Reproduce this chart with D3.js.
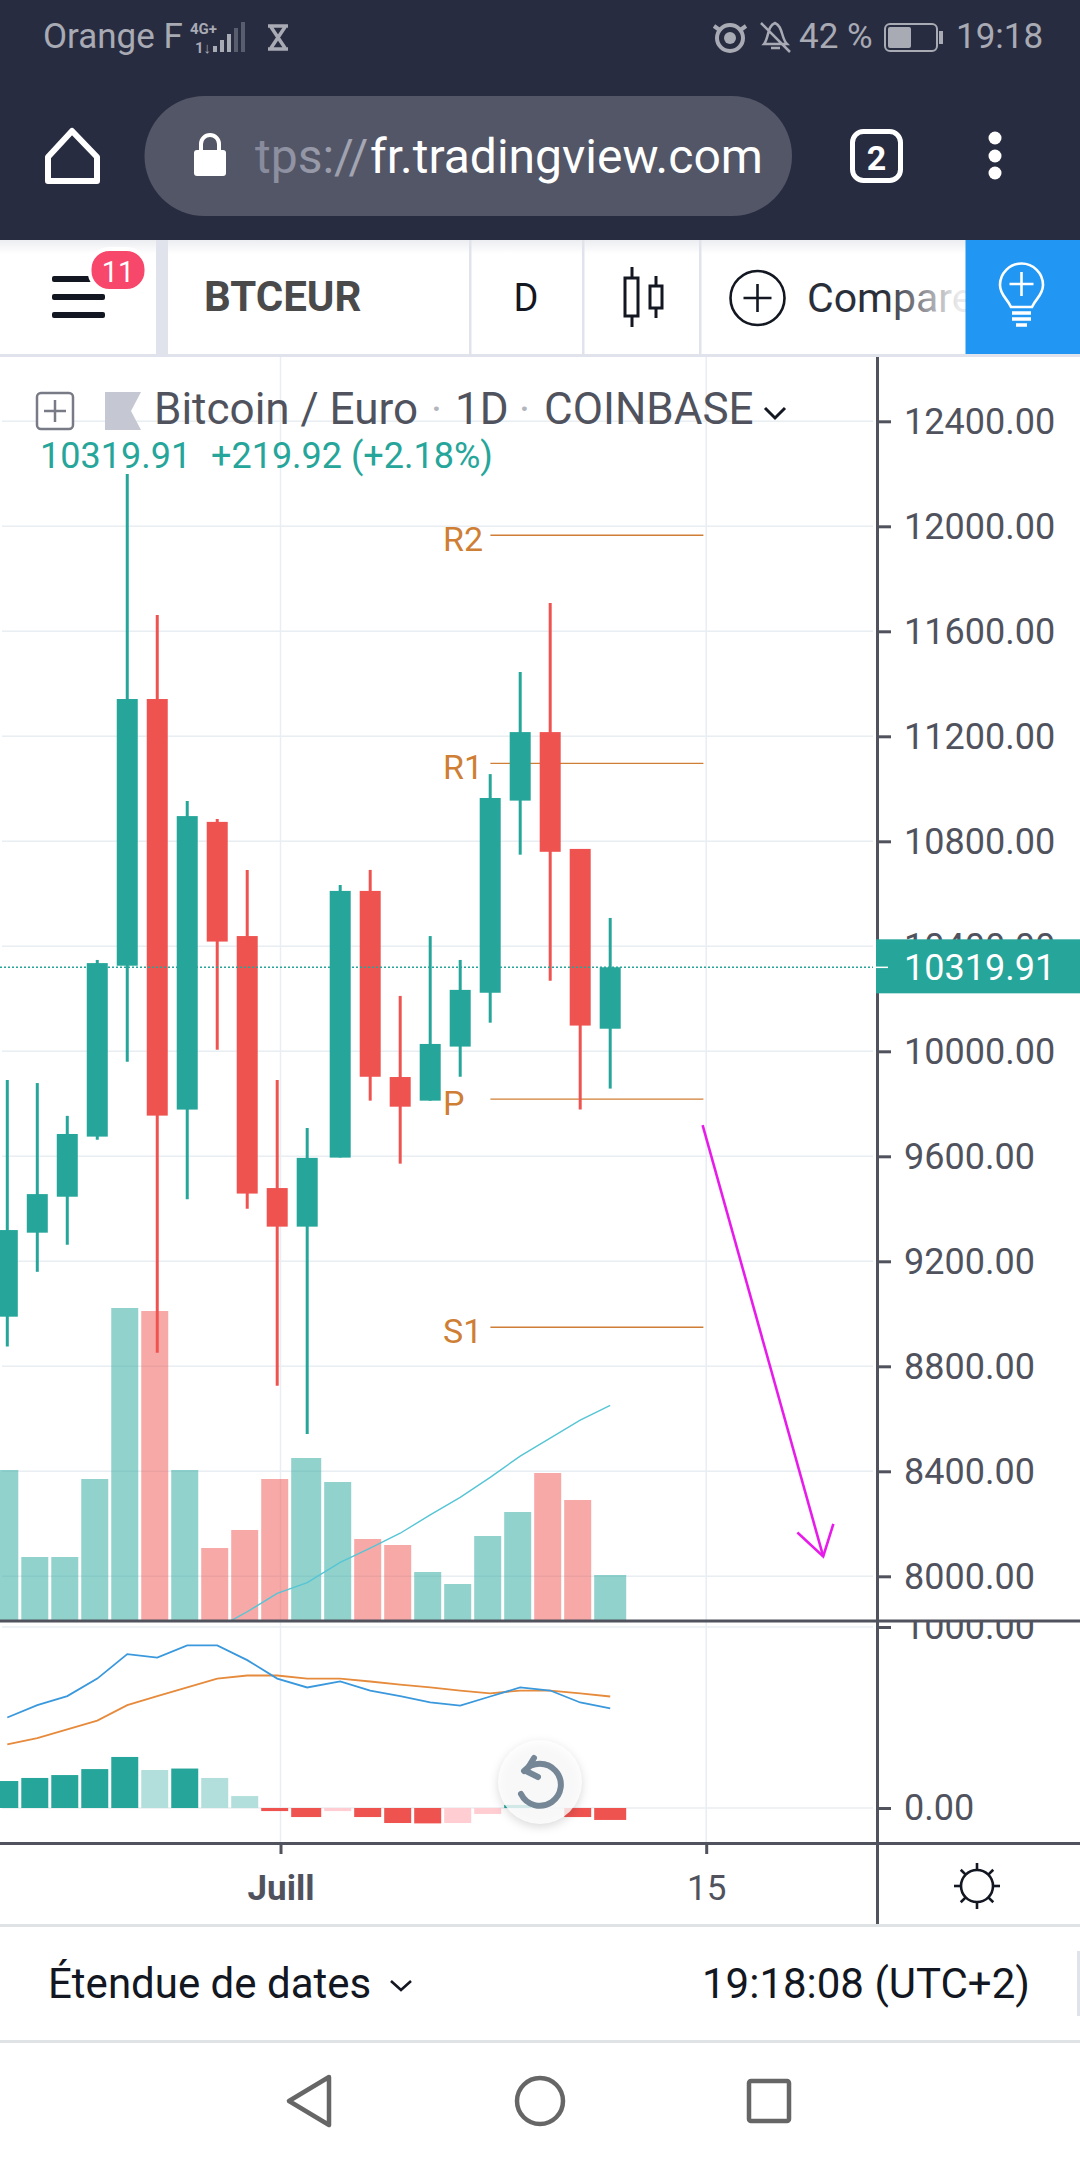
<!DOCTYPE html>
<html>
<head>
<meta charset="utf-8">
<title>BTCEUR</title>
<script src="https://d3js.org/d3.v7.min.js"></script>
<style>
  html, body { margin: 0; padding: 0; background: #fff; }
  svg { display: block; }
  text { font-family: Roboto, "Noto Sans", sans-serif; }
</style>
</head>
<body>
<svg id="chart" width="1080" height="2160"></svg>
<script>
// daily candles, 22 june -> 12 july
var opens  = [8989, 9309, 9446, 9675, 10326, 11342, 9778, 10874, 10439, 9479, 9332, 9595, 10611, 9902, 9812, 10018, 10223, 10955, 11216, 10771, 10086];
var highs  = [9891, 9879, 9754, 10348, 12199, 11662, 10954, 10885, 10691, 9891, 9708, 10634, 10691, 10211, 10439, 10348, 11056, 11445, 11708, 10771, 10508];
var lows   = [8875, 9160, 9263, 9663, 9960, 8852, 9436, 10006, 9400, 8726, 8542, 9595, 9812, 9572, 9812, 9903, 10109, 10749, 10269, 9778, 9858];
var closes = [9319, 9456, 9685, 10336, 11342, 9755, 10896, 10418, 9458, 9332, 9594, 10611, 9903, 9789, 10028, 10234, 10965, 11216, 10760, 10098, 10320];
var volumes = [1510, 640, 640, 1420, 3130, 3100, 1510, 730, 910, 1420, 1630, 1390, 820, 760, 490, 370, 850, 1090, 1480, 1210, 460];

// moving average on the price scale, starts below the pane
var maDays   = [7, 8, 9, 10, 11, 12, 13, 14, 15, 16, 17, 18, 19, 20];
var maValues = [7802, 7865, 7935, 7976, 8053, 8107, 8164, 8234, 8301, 8377, 8458, 8526, 8595, 8651];

var macdLine   = [500, 568, 618, 715, 850, 831, 898, 898, 817, 715, 666, 699, 649, 618, 583, 566, 616, 666, 649, 583, 550];
var signalLine = [351, 386, 434, 483, 568, 618, 666, 715, 732, 732, 715, 715, 699, 682, 666, 649, 633, 649, 649, 633, 616];
var macdHist   = [149, 166, 182, 215, 282, 210, 218, 166, 66, -17, -50, -17, -50, -83, -85, -83, -33, 17, 0, -50, -66];

var priceTicks = [12400, 12000, 11600, 11200, 10800, 10400, 10000, 9600, 9200, 8800, 8400, 8000];
var macdTicks = [1000, 0];
var dayTicks = [9.11, 23.2];
var dayLabels = ["Juill", "15"];
var lastPrice = 10319.91;

var pivotNames  = ["R2", "R1", "P", "S1"];
var pivotValues = [11966, 11097, 9818, 8949];

// hand drawn arrow: [day index, price]
var arrowShaft = [[23.08, 9719], [27.1, 8076]];
var arrowHead  = [[26.24, 8167], [27.1, 8076], [27.44, 8200]];

var teal = "#26a69a", red = "#ef5350", grid = "#e8eef2", axisColor = "#50535e", pivotColor = "#cf7f35";

var svg = d3.select("#chart");
var defs = svg.append("defs");

// scales
var x = d3.scaleLinear().domain([0, 10, 11, 20]).range([7.3, 307.2, 340.2, 610.2]);
var y = d3.scaleLinear().domain([8000, 12400]).range([1576.3, 421.3]);
var volY = d3.scaleLinear().domain([0, 3130]).range([1621, 1308]);
var macdY = d3.scaleLinear().domain([0, 1000]).range([1808, 1627]);

defs.append("clipPath").attr("id", "pricePane").append("rect").attr("x", 0).attr("y", 357).attr("width", 876).attr("height", 1263);
defs.append("clipPath").attr("id", "macdLabels").append("rect").attr("x", 878).attr("y", 1622).attr("width", 202).attr("height", 222);

var fade = defs.append("linearGradient").attr("id", "compFade").attr("gradientUnits", "userSpaceOnUse")
  .attr("x1", 885).attr("x2", 958).attr("y1", 0).attr("y2", 0);
fade.append("stop").attr("offset", 0).attr("stop-color", "#2a2e39");
fade.append("stop").attr("offset", 1).attr("stop-color", "#2a2e39").attr("stop-opacity", 0.1);
var urlFade = defs.append("linearGradient").attr("id", "urlFade").attr("gradientUnits", "userSpaceOnUse")
  .attr("x1", 250).attr("x2", 370).attr("y1", 0).attr("y2", 0);
urlFade.append("stop").attr("offset", 0).attr("stop-color", "#85889a");
urlFade.append("stop").attr("offset", 1).attr("stop-color", "#a7a9b6");
var topShade = defs.append("linearGradient").attr("id", "topShade").attr("x1", 0).attr("x2", 0).attr("y1", 0).attr("y2", 1);
topShade.append("stop").attr("offset", 0).attr("stop-color", "#ecedf1");
topShade.append("stop").attr("offset", 1).attr("stop-color", "#fff");

function label(g, str, px, py, size, color, weight, anchor) {
  return g.append("text").attr("x", px).attr("y", py).attr("font-size", size).attr("fill", color)
    .attr("font-weight", weight || 400).attr("text-anchor", anchor || "start").text(str);
}

// ---------- grid ----------
var gridG = svg.append("g");
gridG.selectAll(".hp").data(priceTicks).join("line")
  .attr("x1", 2).attr("x2", 873).attr("y1", d => y(d)).attr("y2", d => y(d))
  .attr("stroke", grid).attr("stroke-width", 1.5);
gridG.selectAll(".hm").data(macdTicks).join("line")
  .attr("x1", 2).attr("x2", 873).attr("y1", d => macdY(d)).attr("y2", d => macdY(d))
  .attr("stroke", grid).attr("stroke-width", 1.5);
gridG.selectAll(".v").data(dayTicks).join("line")
  .attr("x1", d => x(d)).attr("x2", d => x(d)).attr("y1", 357).attr("y2", 1843)
  .attr("stroke", grid).attr("stroke-width", 1.5);

// ---------- price pane ----------
var pane = svg.append("g").attr("clip-path", "url(#pricePane)");

function barLeft(i) { return x(i) - 16; }
function barRight(i) { return i < volumes.length - 1 ? x(i + 1) - 19 : x(i) + 16; }

pane.selectAll(".vol").data(volumes).join("rect")
  .attr("x", (d, i) => barLeft(i))
  .attr("width", (d, i) => barRight(i) - barLeft(i))
  .attr("y", d => volY(d))
  .attr("height", d => volY(0) - volY(d))
  .attr("fill", (d, i) => closes[i] >= opens[i] ? teal : red)
  .attr("opacity", 0.5);

pane.selectAll(".pivot").data(pivotValues).join("line")
  .attr("x1", 490.4).attr("x2", 703.4)
  .attr("y1", d => y(d)).attr("y2", d => y(d))
  .attr("stroke", pivotColor).attr("stroke-width", 1.4);

pane.selectAll(".wick").data(highs).join("line")
  .attr("x1", (d, i) => x(i)).attr("x2", (d, i) => x(i))
  .attr("y1", d => y(d)).attr("y2", (d, i) => y(lows[i]))
  .attr("stroke", (d, i) => closes[i] >= opens[i] ? teal : red)
  .attr("stroke-width", 3);

pane.selectAll(".body").data(opens).join("rect")
  .attr("x", (d, i) => x(i) - 10.5)
  .attr("width", 21)
  .attr("y", (d, i) => y(Math.max(d, closes[i])))
  .attr("height", (d, i) => Math.abs(y(d) - y(closes[i])))
  .attr("fill", (d, i) => closes[i] >= opens[i] ? teal : red);

var maLine = d3.line().x((d, i) => x(maDays[i])).y(d => y(d));
pane.append("path").attr("d", maLine(maValues)).attr("fill", "none").attr("stroke", "#55c5d6").attr("stroke-width", 1.4);

pane.append("line").attr("x1", 0).attr("x2", 873).attr("y1", y(lastPrice)).attr("y2", y(lastPrice))
  .attr("stroke", teal).attr("stroke-width", 1.5).attr("stroke-dasharray", "2 2");

var arrowLine = d3.line().x(d => x(d[0])).y(d => y(d[1]));
[arrowShaft, arrowHead].forEach(function(pts) {
  pane.append("path").attr("d", arrowLine(pts)).attr("fill", "none")
    .attr("stroke", "#e81cea").attr("stroke-width", 2.6);
});

pivotNames.forEach(function(name, i) {
  label(svg, name, 443, y(pivotValues[i]) + 15.5, 34, pivotColor);
});

// ---------- macd pane ----------
var macd = svg.append("g");
macd.selectAll(".hist").data(macdHist).join("rect")
  .attr("x", (d, i) => barLeft(i))
  .attr("width", (d, i) => barRight(i) - barLeft(i))
  .attr("y", d => macdY(Math.max(d, 0)))
  .attr("height", d => Math.abs(macdY(d) - macdY(0)))
  .attr("fill", function(d, i) {
    var prev = i > 0 ? macdHist[i - 1] : 0;
    if (d >= 0) return prev < d ? teal : "#b2dfdb";
    return prev < d ? "#ffcdd2" : red;
  });

var macdPath = d3.line().x((d, i) => x(i)).y(d => macdY(d));
macd.append("path").attr("d", macdPath(signalLine)).attr("fill", "none").attr("stroke", "#e68a3c").attr("stroke-width", 1.8);
macd.append("path").attr("d", macdPath(macdLine)).attr("fill", "none").attr("stroke", "#3a98dc").attr("stroke-width", 1.8);

// ---------- axes ----------
var priceAxis = d3.axisRight(y).tickValues(priceTicks).tickFormat(d3.format(".2f")).tickSize(14).tickPadding(13);
var priceG = svg.append("g").attr("transform", "translate(877,1)").call(priceAxis);

var macdAxis = d3.axisRight(macdY).tickValues(macdTicks).tickFormat(d3.format(".2f")).tickSize(14).tickPadding(13);
var macdWrap = svg.append("g").attr("clip-path", "url(#macdLabels)");
var macdG = macdWrap.append("g").attr("transform", "translate(877,0)").call(macdAxis);

var dayAxis = d3.axisBottom(x).tickValues(dayTicks).tickFormat((d, i) => dayLabels[i]).tickSize(10).tickPadding(21);
var dayG = svg.append("g").attr("transform", "translate(0,1844)").call(dayAxis);

[priceG, macdG, dayG].forEach(function(g) {
  g.select(".domain").remove();
  g.selectAll("line").attr("stroke", axisColor).attr("stroke-width", 3);
  g.selectAll("text").attr("fill", axisColor).attr("font-size", 36).attr("font-family", "Roboto");
});
priceG.selectAll("line").attr("transform", "translate(0,-1)");
dayG.selectAll("text").attr("font-size", 35).attr("font-weight", (d, i) => i == 0 ? 700 : 400);

// pane borders
svg.append("line").attr("x1", 0).attr("x2", 1080).attr("y1", 1621).attr("y2", 1621).attr("stroke", axisColor).attr("stroke-width", 3);
svg.append("line").attr("x1", 0).attr("x2", 1080).attr("y1", 1843.5).attr("y2", 1843.5).attr("stroke", axisColor).attr("stroke-width", 3);
svg.append("line").attr("x1", 877.5).attr("x2", 877.5).attr("y1", 357).attr("y2", 1924).attr("stroke", axisColor).attr("stroke-width", 3);

// last price tag
svg.append("rect").attr("x", 876).attr("y", y(lastPrice) - 28).attr("width", 204).attr("height", 54).attr("fill", teal);
svg.append("line").attr("x1", 876).attr("x2", 888).attr("y1", y(lastPrice)).attr("y2", y(lastPrice)).attr("stroke", "#fff").attr("stroke-width", 1.5);
label(svg, d3.format(".2f")(lastPrice), 904, y(lastPrice) + 13, 36, "#fff");

// ---------- legend ----------
var legend = svg.append("g");
legend.append("rect").attr("x", 37).attr("y", 393).attr("width", 36).attr("height", 36).attr("rx", 4)
  .attr("fill", "#fff").attr("stroke", "#787b86").attr("stroke-width", 2.5);
legend.append("path").attr("d", "M55 400V422M44 411H66").attr("stroke", "#787b86").attr("stroke-width", 2.5);
legend.append("path").attr("d", "M105 392H141L131 411L141 430H105Z").attr("fill", "#c5c8d3");
label(legend, "Bitcoin / Euro", 154, 424, 44, axisColor);
label(legend, "·", 431, 424, 42, "#b2b5be");
label(legend, "1D", 455, 424, 44, axisColor);
label(legend, "·", 519, 424, 42, "#b2b5be");
label(legend, "COINBASE", 544, 424, 44, axisColor);
legend.append("path").attr("d", "M765 408L775 418L785 408").attr("fill", "none").attr("stroke", "#131722").attr("stroke-width", 3);
label(legend, "10319.91", 40, 468, 36, teal);
label(legend, "+219.92", 211, 468, 36, teal);
label(legend, "(+2.18%)", 351, 468, 36, teal);

// ---------- reset button ----------
var reset = svg.append("g");
reset.append("circle").attr("cx", 540).attr("cy", 1782).attr("r", 42)
  .attr("fill", "rgba(255,255,255,0.8)")
  .style("filter", "drop-shadow(0 3px 5px rgba(0,0,0,0.18))");
reset.append("path").attr("d", "M524 1771A21 21 0 1 1 521 1794")
  .attr("fill", "none").attr("stroke", "#758696").attr("stroke-width", 6).attr("stroke-linecap", "round");
reset.append("path").attr("d", "M534 1758L526 1771L538 1777").attr("fill", "none").attr("stroke", "#758696")
  .attr("stroke-width", 6).attr("stroke-linecap", "round").attr("stroke-linejoin", "round");

// ---------- gear ----------
var gear = svg.append("g").attr("transform", "translate(977,1886)").attr("stroke", "#131722").attr("stroke-width", 2.6).attr("fill", "none");
gear.append("circle").attr("r", 16);
d3.range(8).forEach(function(k) {
  gear.append("line").attr("x1", 0).attr("x2", 0).attr("y1", -16).attr("y2", -23).attr("transform", "rotate(" + (k * 45) + ")");
});

// ---------- phone status + browser bars ----------
var topBar = svg.append("g");
topBar.append("rect").attr("width", 1080).attr("height", 240).attr("fill", "#282c40");
var grey = "#a8aab4";
label(topBar, "Orange F", 43, 48, 35, grey);
label(topBar, "4G+", 190, 34, 15, grey, 700);
label(topBar, "1↓", 195, 53, 15, grey, 700);
[0, 1, 2, 3, 4].forEach(function(k) {
  topBar.append("rect").attr("x", 213 + k * 7).attr("y", 46 - k * 6).attr("width", 4).attr("height", 6 + k * 6)
    .attr("fill", k < 3 ? grey : "#5a5d6e");
});
topBar.append("path").attr("d", "M268 26H288M268 49H288M271 27L285 48M285 27L271 48").attr("stroke", grey).attr("stroke-width", 3.5).attr("fill", "none");
topBar.append("circle").attr("cx", 730).attr("cy", 38).attr("r", 13).attr("fill", "none").attr("stroke", grey).attr("stroke-width", 4);
topBar.append("circle").attr("cx", 730).attr("cy", 38).attr("r", 6).attr("fill", grey);
topBar.append("path").attr("d", "M714 26L721 31M746 26L739 31").attr("stroke", grey).attr("stroke-width", 4);
topBar.append("path").attr("d", "M764 44C769 38 767 26 775 23C783 26 781 38 787 44ZM771 48H780M761 23L790 52").attr("fill", "none").attr("stroke", grey).attr("stroke-width", 2.5);
label(topBar, "42 %", 799, 48, 35, grey);
topBar.append("rect").attr("x", 885).attr("y", 24).attr("width", 52).attr("height", 27).attr("rx", 5).attr("fill", "none").attr("stroke", grey).attr("stroke-width", 2);
topBar.append("rect").attr("x", 888).attr("y", 27).attr("width", 23).attr("height", 21).attr("rx", 2).attr("fill", grey);
topBar.append("rect").attr("x", 939).attr("y", 31).attr("width", 4).attr("height", 13).attr("fill", grey);
label(topBar, "19:18", 956, 48, 35, grey);

topBar.append("path").attr("d", "M72 131L48 157V181H97V157Z").attr("fill", "none").attr("stroke", "#fff").attr("stroke-width", 6).attr("stroke-linejoin", "round");
topBar.append("rect").attr("x", 144.5).attr("y", 96).attr("width", 647.5).attr("height", 120).attr("rx", 60).attr("fill", "#535666");
topBar.append("rect").attr("x", 194).attr("y", 150).attr("width", 32).attr("height", 26).attr("rx", 3).attr("fill", "#fff");
topBar.append("path").attr("d", "M201 151V144A9 9 0 0 1 219 144V151").attr("fill", "none").attr("stroke", "#fff").attr("stroke-width", 4);
label(topBar, "tps://", 255, 173, 48, "url(#urlFade)");
label(topBar, "fr.tradingview.com", 370, 173, 48, "#fff");
topBar.append("rect").attr("x", 852.5).attr("y", 131.5).attr("width", 48).attr("height", 49).attr("rx", 11).attr("fill", "none").attr("stroke", "#fff").attr("stroke-width", 5);
label(topBar, "2", 876.5, 170, 34, "#fff", 700, "middle");
[138, 156, 173].forEach(function(cy) {
  topBar.append("circle").attr("cx", 995).attr("cy", cy).attr("r", 6.5).attr("fill", "#fff");
});

// ---------- tradingview toolbar ----------
var bar = svg.append("g");
bar.append("rect").attr("y", 240).attr("width", 1080).attr("height", 114).attr("fill", "#fff");
bar.append("rect").attr("y", 240).attr("width", 1080).attr("height", 14).attr("fill", "url(#topShade)");
bar.append("rect").attr("y", 354).attr("width", 1080).attr("height", 3).attr("fill", "#e0e3eb");
bar.append("rect").attr("x", 156).attr("y", 240).attr("width", 12).attr("height", 114).attr("fill", "#e0e3eb");
[470, 583, 700].forEach(function(dx) {
  bar.append("rect").attr("x", dx - 1).attr("y", 240).attr("width", 2.5).attr("height", 114).attr("fill", "#e0e3eb");
});
[276, 294, 312].forEach(function(by) {
  bar.append("rect").attr("x", 52).attr("y", by).attr("width", 53).attr("height", 6).attr("rx", 2).attr("fill", "#131722");
});
bar.append("rect").attr("x", 89.5).attr("y", 249).attr("width", 57).attr("height", 42).attr("rx", 20).attr("fill", "#f7476a").attr("stroke", "#fff").attr("stroke-width", 4);
label(bar, "11", 118, 282, 29, "#fff", 400, "middle");
label(bar, "BTCEUR", 204, 311, 42, "#4a4a4a", 700);
label(bar, "D", 526, 311, 38, "#131722", 400, "middle");
var candleIcon = bar.append("g").attr("stroke", "#131722").attr("stroke-width", 3).attr("fill", "#fff");
candleIcon.append("path").attr("d", "M632 267V327M656 276V318");
candleIcon.append("rect").attr("x", 625).attr("y", 278).attr("width", 13).attr("height", 38);
candleIcon.append("rect").attr("x", 650).attr("y", 286).attr("width", 12).attr("height", 22);
bar.append("circle").attr("cx", 757.5).attr("cy", 298).attr("r", 27).attr("fill", "none").attr("stroke", "#131722").attr("stroke-width", 2.6);
bar.append("path").attr("d", "M757.5 284V312M743.5 298H771.5").attr("stroke", "#131722").attr("stroke-width", 2.6);
label(bar, "Comparer", 807, 312, 41, "url(#compFade)");
bar.append("rect").attr("x", 965.5).attr("y", 240).attr("width", 114.5).attr("height", 114).attr("fill", "#2196f3");
var bulb = bar.append("g").attr("stroke", "#fff").attr("stroke-width", 2.6).attr("fill", "none");
bulb.append("path").attr("d", "M1011 307C1007 298 1000 295 1000 285A21.5 21.5 0 0 1 1043 285C1043 295 1036 298 1032 307Z");
bulb.append("path").attr("d", "M1021.5 272V296M1009.5 284H1033.5");
bulb.append("path").attr("d", "M1012 313H1031M1012 319H1031M1016 325H1027").attr("stroke-width", 3.5);

// ---------- footer ----------
var foot = svg.append("g");
foot.append("rect").attr("y", 1924).attr("width", 1080).attr("height", 3).attr("fill", "#e0e3e6");
foot.append("rect").attr("y", 2040).attr("width", 1080).attr("height", 3).attr("fill", "#e0e3e6");
label(foot, "Étendue de dates", 48, 1998, 42, "#131722");
foot.append("path").attr("d", "M391 1981L401 1990L411 1981").attr("fill", "none").attr("stroke", "#131722").attr("stroke-width", 2.6);
label(foot, "19:18:08 (UTC+2)", 702, 1998, 42, "#131722");
foot.append("rect").attr("x", 1077).attr("y", 1951).attr("width", 3).attr("height", 65).attr("fill", "#e0e3eb");
var nav = foot.append("g").attr("fill", "none").attr("stroke", "#666").attr("stroke-width", 4.5).attr("stroke-linejoin", "round");
nav.append("path").attr("d", "M329 2077L289 2101L329 2125Z");
nav.append("circle").attr("cx", 540).attr("cy", 2101).attr("r", 23);
nav.append("rect").attr("x", 749).attr("y", 2081).attr("width", 40).attr("height", 40).attr("rx", 2);
</script>
</body>
</html>
